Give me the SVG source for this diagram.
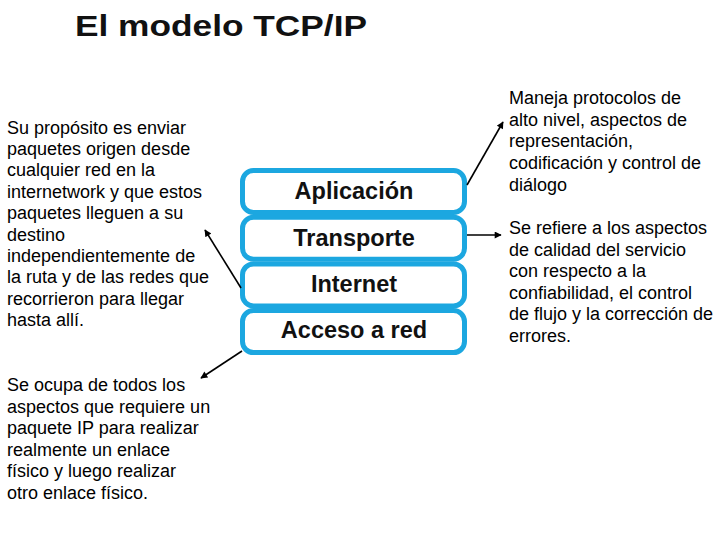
<svg xmlns="http://www.w3.org/2000/svg" width="720" height="540" viewBox="0 0 720 540">
<style>
.title{font-family:"Liberation Sans",Arial,sans-serif;font-weight:bold;font-size:30px;fill:#111}
.txt{font-family:"Liberation Sans",Arial,sans-serif;font-size:18px;fill:#000}
.layer{fill:#fff;stroke:#1CA7E0;stroke-width:5}
.lbl{font-family:"Liberation Sans",Arial,sans-serif;font-weight:bold;font-size:23.5px;fill:#111;text-anchor:middle}
.arr{stroke:#000;stroke-width:1.6;fill:none;marker-end:url(#ah)}
</style>
<defs>
<marker id="ah" viewBox="0 0 10 10" refX="9" refY="5" markerWidth="8" markerHeight="7" markerUnits="userSpaceOnUse" orient="auto">
<path d="M0,0 L10,5 L0,10 z" fill="#000"/>
</marker>
</defs>
<rect width="720" height="540" fill="#fff"/>
<text class="title" x="75" y="36" textLength="292" lengthAdjust="spacingAndGlyphs">El modelo TCP/IP</text>

<g id="aplicacion">
<rect class="layer" x="242.5" y="170.5" width="222" height="42" rx="11"/>
<text class="lbl" x="354" y="199">Aplicación</text>
</g>
<g id="transporte">
<rect class="layer" x="242.5" y="217.2" width="222" height="42" rx="11"/>
<text class="lbl" x="354" y="246">Transporte</text>
</g>
<g id="internet">
<rect class="layer" x="242.5" y="263.9" width="222" height="42" rx="11"/>
<text class="lbl" x="354" y="292">Internet</text>
</g>
<g id="acceso">
<rect class="layer" x="242.5" y="310.6" width="222" height="42" rx="11"/>
<text class="lbl" x="354" y="338">Acceso a red</text>
</g>

<g id="note-internet">
<text class="txt">
<tspan x="7" y="133.5">Su propósito es enviar</tspan>
<tspan x="7" y="154.9">paquetes origen desde</tspan>
<tspan x="7" y="176.3">cualquier red en la</tspan>
<tspan x="7" y="197.7">internetwork y que estos</tspan>
<tspan x="7" y="219.1">paquetes lleguen a su</tspan>
<tspan x="7" y="240.5">destino</tspan>
<tspan x="7" y="261.9">independientemente de</tspan>
<tspan x="7" y="283.3">la ruta y de las redes que</tspan>
<tspan x="7" y="304.7">recorrieron para llegar</tspan>
<tspan x="7" y="326.1">hasta allí.</tspan>
</text>
</g>
<g id="note-acceso">
<text class="txt">
<tspan x="7" y="391">Se ocupa de todos los</tspan>
<tspan x="7" y="412.6">aspectos que requiere un</tspan>
<tspan x="7" y="434.2">paquete IP para realizar</tspan>
<tspan x="7" y="455.8">realmente un enlace</tspan>
<tspan x="7" y="477.4">físico y luego realizar</tspan>
<tspan x="7" y="499">otro enlace físico.</tspan>
</text>
</g>
<g id="note-aplicacion">
<text class="txt">
<tspan x="509" y="104">Maneja protocolos de</tspan>
<tspan x="509" y="125.7">alto nivel, aspectos de</tspan>
<tspan x="509" y="147.4">representación,</tspan>
<tspan x="509" y="169.1">codificación y control de</tspan>
<tspan x="509" y="190.8">diálogo</tspan>
</text>
</g>
<g id="note-transporte">
<text class="txt">
<tspan x="509" y="234">Se refiere a los aspectos</tspan>
<tspan x="509" y="255.6">de calidad del servicio</tspan>
<tspan x="509" y="277.2">con respecto a la</tspan>
<tspan x="509" y="298.8">confiabilidad, el control</tspan>
<tspan x="509" y="320.4">de flujo y la corrección de</tspan>
<tspan x="509" y="342">errores.</tspan>
</text>
</g>

<g id="connectors">
<line class="arr" x1="467" y1="185" x2="503" y2="122"/>
<line class="arr" x1="467" y1="235" x2="501" y2="235"/>
<line class="arr" x1="241" y1="288" x2="205" y2="230"/>
<line class="arr" x1="242" y1="351" x2="201" y2="378"/>
</g>
</svg>
